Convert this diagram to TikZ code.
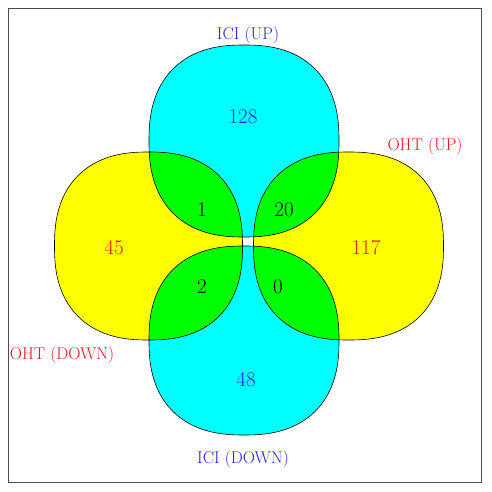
\documentclass[tikz,border=0pt]{standalone}
\usepackage{fontspec}
\definecolor{lblblue}{RGB}{35,35,230}
\definecolor{lblred}{RGB}{225,25,35}
\definecolor{vcyan}{RGB}{0,255,255}
\definecolor{vyellow}{RGB}{255,255,0}
\definecolor{vgreen}{RGB}{0,255,0}
% superellipse path: center (#1,#2), radii #3,#4
\newcommand{\sellpath}[4]{plot[domain=0:360,samples=241,variable=\t]
  ({#1+#3*cos(\t)*pow(max(abs(cos(\t)),0.000001),-0.16667)},
   {#2+#4*sin(\t)*pow(max(abs(sin(\t)),0.000001),-0.16667)}) -- cycle}
\tikzset{
  outline/.style={draw=black,line width=0.6pt},
  setlabel/.style={font=\fontsize{17}{19}\selectfont,inner sep=0pt},
  count/.style={font=\fontsize{21}{24}\selectfont,inner sep=0pt},
  frame/.style={draw=black!70,line width=1pt}
}
\begin{document}
\begin{tikzpicture}[x=1pt,y=-1pt]
\useasboundingbox (0,0) rectangle (491,492);
\draw[frame] (8,9) rectangle (481,482);
% base fills
\fill[vcyan] \sellpath{244}{141}{95}{96};
\fill[vcyan] \sellpath{244}{340.5}{95}{94.5};
\fill[vyellow] \sellpath{148.5}{246}{94}{94};
\fill[vyellow] \sellpath{348.5}{246}{95}{94};
% intersections
\begin{scope}
  \clip \sellpath{244}{141}{95}{96};
  \fill[vgreen] \sellpath{148.5}{246}{94}{94};
  \fill[vgreen] \sellpath{348.5}{246}{95}{94};
\end{scope}
\begin{scope}
  \clip \sellpath{244}{340.5}{95}{94.5};
  \fill[vgreen] \sellpath{148.5}{246}{94}{94};
  \fill[vgreen] \sellpath{348.5}{246}{95}{94};
\end{scope}
% outlines
\draw[outline] \sellpath{244}{141}{95}{96};
\draw[outline] \sellpath{244}{340.5}{95}{94.5};
\draw[outline] \sellpath{148.5}{246}{94}{94};
\draw[outline] \sellpath{348.5}{246}{95}{94};
% set labels
\node[setlabel,text=lblblue] (iciup) at (248,35) {ICI (UP)};
\node[setlabel,text=lblblue] (icidown) at (243,459) {ICI (DOWN)};
\node[setlabel,text=lblred] (ohtup) at (425,146) {OHT (UP)};
\node[setlabel,text=lblred] (ohtdown) at (62,355) {OHT (DOWN)};
% counts
\node[count,text=lblblue] (n128) at (243,117) {128};
\node[count,text=lblblue] (n48) at (246,380) {48};
\node[count,text=lblred] (n45) at (114,248) {45};
\node[count,text=lblred] (n117) at (366,248) {117};
\node[count] (n1) at (202,210) {1};
\node[count] (n20) at (284,210) {20};
\node[count] (n2) at (202,287) {2};
\node[count] (n0) at (278,287) {0};
\end{tikzpicture}
\end{document}
